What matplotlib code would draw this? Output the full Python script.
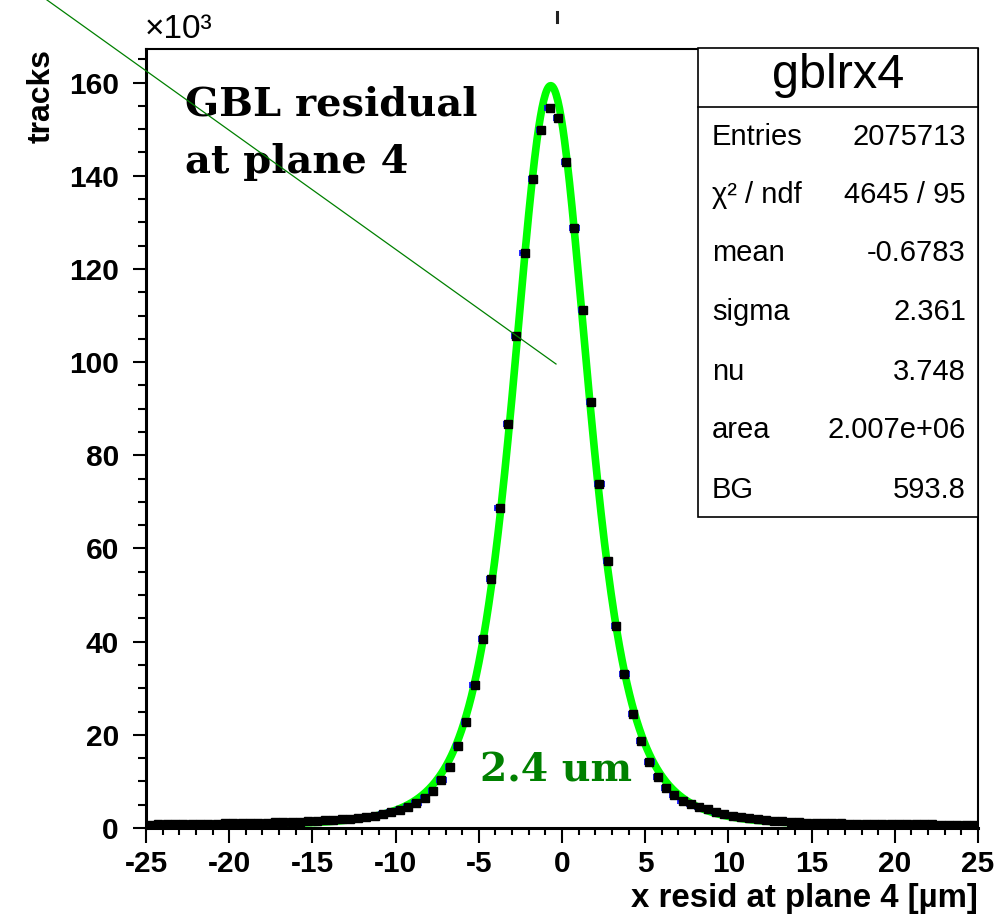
import math
import numpy as np
from matplotlib import pyplot as plt
from matplotlib.lines import Line2D
from matplotlib.patches import Rectangle
from matplotlib.ticker import MultipleLocator

plt.rcParams['axes.unicode_minus'] = False
plt.rcParams['font.family'] = ['Liberation Sans', 'DejaVu Sans']

# histogram: 100 bins of 0.5 um between -25 and 25, counts in units of 10^3
bin_edges = np.linspace(-25, 25, 101)
bin_width = 0.5
tracks_k = [
    0.75, 0.78, 0.80, 0.82, 0.84, 0.86, 0.88, 0.91, 0.94, 0.97,
    1.00, 1.04, 1.08, 1.12, 1.16, 1.21, 1.26, 1.32, 1.38, 1.45,
    1.53, 1.62, 1.73, 1.86, 2.01, 2.19, 2.41, 2.68, 3.00, 3.40,
    3.95, 4.55, 5.40, 6.50, 8.00, 10.2, 13.0, 17.6, 22.7, 30.6,
    40.6, 53.4, 68.6, 86.8, 105.7, 123.5, 139.3, 149.8, 154.6, 152.4,
    143.0, 128.8, 111.2, 91.4, 73.8, 57.4, 43.4, 33.1, 24.5, 18.7,
    14.2, 11.0, 8.5, 7.1, 5.9, 5.1, 4.5, 4.0, 3.5, 3.05,
    2.65, 2.35, 2.10, 1.90, 1.72, 1.56, 1.43, 1.33, 1.25, 1.18,
    1.12, 1.07, 1.03, 0.99, 0.96, 0.93, 0.90, 0.88, 0.86, 0.84,
    0.82, 0.80, 0.79, 0.77, 0.76, 0.75, 0.74, 0.73, 0.72, 0.71,
]

# Student-t fit result
fit_mean = -0.6783
fit_sigma = 2.361
fit_nu = 3.748
fit_area = 2.007e6
fit_bg = 593.8

stat_names = ['Entries', 'χ² / ndf', 'mean', 'sigma', 'nu', 'area', 'BG']
stat_values = ['2075713', '4645 / 95', '-0.6783', '2.361', '3.748', '2.007e+06', '593.8']

W, H = 1001, 918


def fx(x):
    return x / W


def fy(y):
    return 1 - y / H


def student_t(x):
    z = (x - fit_mean) / fit_sigma
    norm = math.gamma((fit_nu + 1) / 2) / (math.sqrt(fit_nu * math.pi) * math.gamma(fit_nu / 2))
    pdf = norm / fit_sigma * (1 + z ** 2 / fit_nu) ** (-(fit_nu + 1) / 2)
    return (fit_area * bin_width * pdf + fit_bg) / 1000.0


fig = plt.figure(figsize=(W / 100, H / 100), dpi=100)
ax = fig.add_axes([fx(146), fy(828), fx(978) - fx(146), fy(49) - fy(828)])

centers = 0.5 * (bin_edges[:-1] + bin_edges[1:])
xf = np.linspace(-25, 25, 1001)
ax.plot(xf, student_t(xf), color='#00ff00', lw=5.5, zorder=2)
ax.errorbar(centers, tracks_k, xerr=bin_width / 2, fmt='s', color='black',
            ms=6, ecolor='blue', elinewidth=1.5, capsize=2.5, capthick=1.2,
            zorder=3, clip_on=True)

ax.set_xlim(-25, 25)
ax.set_ylim(0, 167.2)
ax.xaxis.set_major_locator(MultipleLocator(5))
ax.xaxis.set_minor_locator(MultipleLocator(1))
ax.yaxis.set_major_locator(MultipleLocator(20))
ax.yaxis.set_minor_locator(MultipleLocator(5))
ax.tick_params(axis='x', which='major', direction='out', length=11, width=1.5, pad=5)
ax.tick_params(axis='x', which='minor', direction='out', length=5, width=1.5)
ax.tick_params(axis='y', which='major', direction='out', length=9.5, width=1.5, pad=10)
ax.tick_params(axis='y', which='minor', direction='out', length=6, width=1.5)
ax.tick_params(labelsize=21.5)
for lab in ax.get_xticklabels() + ax.get_yticklabels():
    lab.set_fontweight('bold')
for side in ['left', 'bottom']:
    ax.spines[side].set_linewidth(2.2)
for side in ['top', 'right']:
    ax.spines[side].set_linewidth(1.5)

fig.text(fx(978), fy(899), 'x resid at plane 4 [µm]', ha='right', va='center',
         fontsize=23.8, fontweight='bold')
fig.text(fx(42), fy(49), 'tracks', rotation=90, ha='center', va='top',
         fontsize=23, fontweight='bold')
fig.text(fx(145), fy(30), '×10³', ha='left', va='center', fontsize=24)

# stats box
bx0, bx1, by0, by1, ysep = 698, 978, 517, 48, 107
fig.add_artist(Rectangle((fx(bx0), fy(by0)), fx(bx1) - fx(bx0), fy(by1) - fy(by0),
                         transform=fig.transFigure, facecolor='white',
                         edgecolor='black', lw=1.2, zorder=5))
fig.add_artist(Line2D([fx(bx0), fx(bx1)], [fy(ysep), fy(ysep)],
                      transform=fig.transFigure, color='black', lw=1.2, zorder=6))
fig.text(fx((bx0 + bx1) / 2), fy(75), 'gblrx4', ha='center', va='center',
         fontsize=35, zorder=7)
row_y = [137, 195, 253, 312, 372, 430, 490]
for name, value, y in zip(stat_names, stat_values, row_y):
    fig.text(fx(712), fy(y), name, ha='left', va='center', fontsize=21, zorder=7)
    fig.text(fx(966), fy(y), value, ha='right', va='center', fontsize=21, zorder=7)

# annotations
fig.text(fx(185), fy(116), 'GBL residual', family='DejaVu Serif', fontweight='bold',
         fontsize=28.8, ha='left', va='baseline')
fig.text(fx(185), fy(173), 'at plane 4', family='DejaVu Serif', fontweight='bold',
         fontsize=28.8, ha='left', va='baseline')
fig.text(fx(480), fy(782), '2.4 um', family='DejaVu Serif', fontweight='bold',
         fontsize=28.3, color='#008000', ha='left', va='baseline')
fig.add_artist(Line2D([fx(47), fx(556)], [fy(0), fy(364)], transform=fig.transFigure,
                      color='#008000', lw=0.9, zorder=4))
fig.add_artist(Line2D([fx(557), fx(557)], [fy(12), fy(22)], transform=fig.transFigure,
                      color='#222222', lw=2.2))

fig.savefig('out.png', dpi=100)
